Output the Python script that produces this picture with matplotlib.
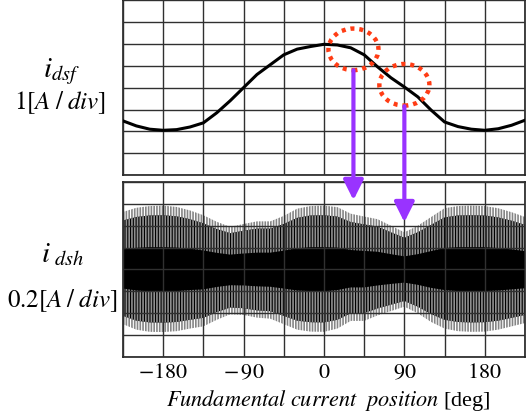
import numpy as np
import matplotlib
matplotlib.use('Agg')
import matplotlib.pyplot as plt
from matplotlib.patches import Ellipse, ConnectionPatch

plt.rcParams['font.family'] = ['Liberation Serif', 'DejaVu Serif']
plt.rcParams['mathtext.fontset'] = 'stix'
plt.rcParams['hatch.linewidth'] = 1.2

# fundamental position [deg], sample grid for the read-off values
angle = [-225, -210, -195, -180, -165, -150, -135, -120, -105, -90, -75, -60,
         -45, -30, -15, 0, 15, 30, 45, 60, 75, 90, 105, 120, 135, 150, 165,
         180, 195, 210, 225]

# i_dsf trace, in divisions (0..8)
idsf = [2.48, 2.25, 2.1, 2.05, 2.08, 2.2, 2.39, 2.85, 3.4, 4.0, 4.6, 5.05,
        5.5, 5.76, 5.88, 5.98, 5.95, 5.82, 5.5, 4.95, 4.45, 4.03, 3.58, 2.97,
        2.43, 2.22, 2.1, 2.05, 2.12, 2.28, 2.51]

# i_dsh envelopes, in divisions (0..8)
idsh_top = [6.63, 6.82, 6.9, 6.92, 6.86, 6.7, 6.48, 6.18, 5.95, 6.08, 6.2, 6.2,
            6.45, 6.78, 6.9, 6.92, 6.85, 6.55, 6.42, 6.3, 6.0, 5.7, 6.0, 6.4,
            6.8, 6.9, 6.92, 6.9, 6.8, 6.62, 6.4]
idsh_bot = [1.5, 1.25, 1.15, 1.14, 1.18, 1.3, 1.4, 1.7, 1.95, 1.92, 1.8, 1.75,
            1.5, 1.25, 1.16, 1.15, 1.3, 1.65, 1.65, 1.9, 2.1, 2.3, 2.0, 1.6,
            1.3, 1.18, 1.15, 1.16, 1.25, 1.4, 1.55]
# reach of the dark (black) strokes
idsh_mid_top = [6.24, 6.4, 6.47, 6.48, 6.43, 6.3, 6.11, 5.85, 5.66, 5.77, 5.87, 5.87,
                6.08, 6.36, 6.47, 6.48, 6.42, 6.17, 6.06, 5.96, 5.7, 5.45, 5.7, 6.04,
                6.38, 6.47, 6.48, 6.47, 6.38, 6.23, 6.04]
idsh_mid_bot = [1.88, 1.66, 1.58, 1.57, 1.6, 1.7, 1.79, 2.05, 2.26, 2.23, 2.13, 2.09,
                1.88, 1.66, 1.59, 1.58, 1.7, 2.0, 2.0, 2.22, 2.39, 2.56, 2.3, 1.96,
                1.7, 1.6, 1.58, 1.59, 1.66, 1.79, 1.92]
# solid dark core
idsh_core_top = [4.92, 4.99, 5.02, 5.02, 5.0, 4.95, 4.87, 4.76, 4.68, 4.73, 4.77, 4.77,
                 4.86, 4.97, 5.02, 5.02, 5.0, 4.89, 4.85, 4.81, 4.7, 4.6, 4.7, 4.84,
                 4.98, 5.02, 5.02, 5.02, 4.98, 4.92, 4.84]
idsh_core_bot = [3.13, 3.04, 3.0, 3.0, 3.01, 3.06, 3.09, 3.2, 3.28, 3.27, 3.23, 3.21,
                 3.13, 3.04, 3.01, 3.0, 3.06, 3.18, 3.18, 3.27, 3.34, 3.4, 3.3, 3.16,
                 3.06, 3.01, 3.0, 3.01, 3.04, 3.09, 3.14]

tick_pos = [-180, -90, 0, 90, 180]
tick_lab = [r'$-180$', r'$-\,90$', r'$0$', r'$90$', r'$180$']

# marked points on the fundamental trace
marks_x = [33, 90]
marks_y = [5.75, 4.13]
arrow_tip = [7.17, 6.16]
arrow_start = [4.8, 3.15]

fig = plt.figure(figsize=(5.3, 4.17), dpi=100)
ax1 = fig.add_axes([0.232, 0.580, 0.7585, 0.4197])
ax2 = fig.add_axes([0.232, 0.1439, 0.7585, 0.4197])

for ax in (ax1, ax2):
    ax.set_xlim(-225, 225)
    ax.set_ylim(0, 8)
    ax.set_xticks(tick_pos)
    ax.set_xticks(np.arange(-225, 226, 45), minor=True)
    ax.set_yticks(np.arange(0, 9, 1))
    ax.grid(True, which='both', color='#303030', lw=1.0)
    ax.set_axisbelow(False)
    ax.tick_params(which='both', length=0, labelleft=False, labelbottom=False)
    for s in ax.spines.values():
        s.set_linewidth(1.2)
        s.set_color('#202020')

ax1.plot(angle, idsf, color='black', lw=2.2, zorder=3)

ax2.fill_between(angle, idsh_bot, idsh_top, facecolor='white',
                 edgecolor='#858585', hatch='|' * 6, lw=0, zorder=1)
ax2.fill_between(angle, idsh_mid_bot, idsh_mid_top, facecolor='black',
                 edgecolor='#8f8f8f', hatch='|' * 6, lw=0, zorder=1.2)
ax2.fill_between(angle, idsh_core_bot, idsh_core_top, facecolor='black',
                 lw=0, zorder=1.4)

ax2.set_xticklabels(tick_lab, fontsize=16)
ax2.tick_params(labelbottom=True, pad=5)

for x, y in zip(marks_x, marks_y):
    ax1.add_patch(Ellipse((x, y), 56, 1.9, fill=False, edgecolor='#ff3c14',
                          lw=3.2, linestyle=(0, (0.9, 1.1)), zorder=4))

for x, y0, y1 in zip(marks_x, arrow_start, arrow_tip):
    con = ConnectionPatch(xyA=(x, y0), coordsA=ax1.transData,
                          xyB=(x, y1), coordsB=ax2.transData,
                          arrowstyle='-|>,head_length=0.6,head_width=0.3',
                          mutation_scale=20, color='#9933ff', lw=3, zorder=5)
    fig.add_artist(con)

fig.text(0.115, 0.828, r'$i_{dsf}$', fontsize=21, ha='center', va='center')
fig.text(0.113, 0.755, r'$1[A\;/\;div]$', fontsize=18, ha='center', va='center')
fig.text(0.118, 0.39, r'$i_{\ dsh}$', fontsize=21, ha='center', va='center')
fig.text(0.118, 0.28, r'$0.2[A\;/\;div]$', fontsize=18, ha='center', va='center')
fig.text(0.62, 0.04, r'$Fundamental\ current\ \ position\ $[deg]',
         fontsize=16, ha='center', va='center')

fig.savefig('out.png', dpi=100)
